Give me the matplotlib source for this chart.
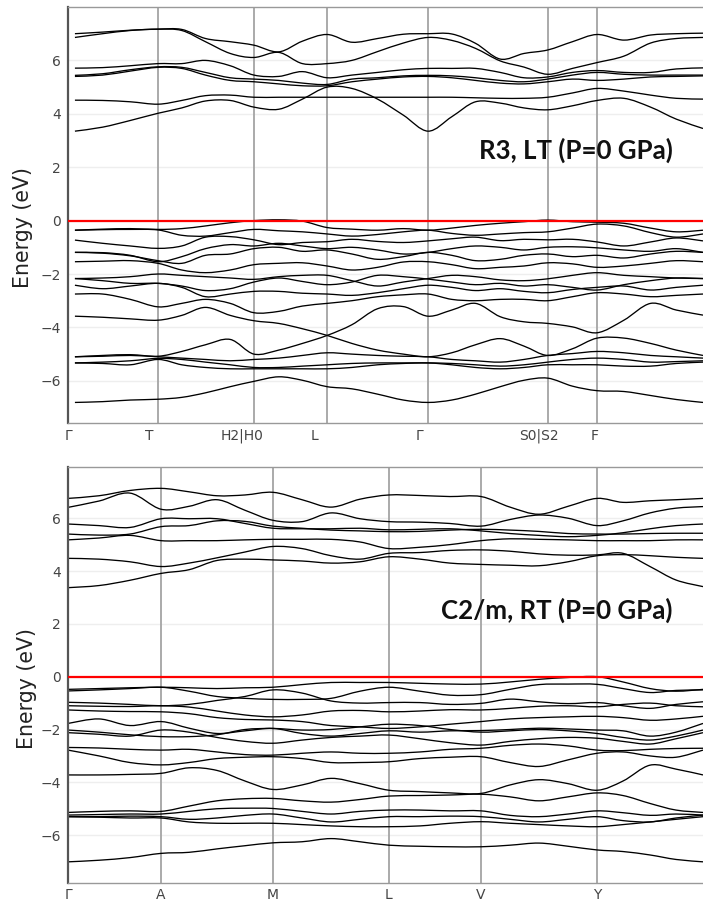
import matplotlib
matplotlib.use('Agg')
import matplotlib.pyplot as plt
from matplotlib.path import Path
from matplotlib.patches import PathPatch

# ---------------- top panel: R3, LT ----------------
k_top = [0, 28, 56, 84, 108, 132, 157, 181, 206, 230, 255, 280, 306, 332, 357,
         381, 405, 430, 454, 478, 503, 528, 555, 582, 608, 635]
kline_top = [84, 181, 255, 357, 478, 528]
klab_top_pos = [-7, 75, 169, 242, 348, 469, 525]
klab_top = ['Γ', 'T', 'H2|H0', 'L', 'Γ', 'S0|S2', 'F']

top_cond = [
    [7.00, 7.06, 7.13, 7.17, 7.16, 6.82, 6.70, 6.57, 6.32, 6.72, 6.97, 6.68, 6.82, 6.98, 7.00, 6.99, 6.64, 6.05, 6.26, 6.39, 6.70, 6.97, 6.76, 6.95, 7.00, 7.02],
    [6.86, 7.00, 7.12, 7.17, 7.12, 6.70, 6.26, 6.11, 6.30, 5.88, 5.88, 6.00, 6.33, 6.65, 6.86, 6.75, 6.45, 5.98, 5.75, 5.48, 5.70, 5.92, 6.16, 6.65, 6.82, 6.86],
    [5.71, 5.73, 5.80, 5.88, 5.88, 6.00, 5.80, 5.45, 5.40, 5.58, 5.35, 5.45, 5.55, 5.65, 5.70, 5.70, 5.70, 5.55, 5.35, 5.38, 5.55, 5.62, 5.55, 5.55, 5.68, 5.72],
    [5.44, 5.50, 5.65, 5.76, 5.74, 5.55, 5.35, 5.30, 5.25, 5.15, 5.10, 5.30, 5.35, 5.42, 5.44, 5.42, 5.35, 5.25, 5.20, 5.30, 5.45, 5.55, 5.48, 5.45, 5.45, 5.45],
    [5.40, 5.45, 5.60, 5.74, 5.70, 5.45, 5.25, 5.20, 5.12, 5.05, 5.05, 5.20, 5.30, 5.38, 5.40, 5.35, 5.25, 5.15, 5.12, 5.20, 5.30, 5.25, 5.30, 5.38, 5.40, 5.42],
    [4.51, 4.50, 4.45, 4.36, 4.50, 4.68, 4.70, 4.62, 4.62, 4.62, 4.62, 4.62, 4.62, 4.62, 4.62, 4.62, 4.60, 4.58, 4.58, 4.62, 4.78, 4.95, 4.85, 4.70, 4.58, 4.55],
    [3.35, 3.50, 3.75, 4.02, 4.22, 4.48, 4.50, 4.25, 4.17, 4.55, 5.00, 4.95, 4.55, 3.95, 3.35, 3.89, 4.45, 4.40, 4.22, 4.15, 4.30, 4.50, 4.58, 4.25, 3.80, 3.45],
]

top_val = [
    [-0.36, -0.32, -0.30, -0.33, -0.30, -0.20, -0.08, 0.00, 0.03, -0.02, -0.26, -0.32, -0.36, -0.30, -0.36, -0.28, -0.18, -0.10, -0.04, 0.02, -0.04, -0.06, -0.10, -0.28, -0.42, -0.36],
    [-0.36, -0.34, -0.33, -0.35, -0.55, -0.58, -0.45, -0.33, -0.38, -0.42, -0.50, -0.58, -0.52, -0.42, -0.36, -0.48, -0.55, -0.50, -0.45, -0.42, -0.28, -0.13, -0.20, -0.45, -0.62, -0.50],
    [-0.73, -0.85, -0.95, -1.04, -0.95, -0.62, -0.60, -0.72, -0.90, -0.82, -0.79, -0.70, -0.78, -0.82, -0.76, -0.68, -0.62, -0.75, -0.70, -0.72, -0.70, -0.80, -0.95, -0.80, -0.65, -0.76],
    [-1.19, -1.20, -1.30, -1.54, -1.35, -1.05, -0.90, -0.95, -0.85, -0.95, -1.05, -1.00, -1.10, -1.25, -1.19, -1.05, -0.95, -1.00, -1.10, -1.00, -0.98, -1.02, -1.10, -1.15, -1.05, -1.19],
    [-1.19, -1.22, -1.32, -1.50, -1.60, -1.30, -1.25, -1.05, -1.00, -1.15, -1.10, -1.25, -1.45, -1.35, -1.19, -1.30, -1.50, -1.45, -1.30, -1.25, -1.35, -1.30, -1.40, -1.25, -1.15, -1.19],
    [-1.54, -1.52, -1.50, -1.60, -1.85, -1.95, -1.85, -1.65, -1.60, -1.58, -1.70, -1.85, -1.75, -1.55, -1.54, -1.65, -1.80, -1.75, -1.70, -1.58, -1.62, -1.75, -1.70, -1.60, -1.50, -1.54],
    [-2.17, -2.15, -2.10, -2.00, -2.05, -2.10, -2.15, -2.20, -2.10, -2.05, -2.05, -2.25, -2.45, -2.30, -2.17, -2.05, -2.10, -2.22, -2.25, -2.18, -2.05, -1.95, -2.05, -2.10, -2.15, -2.17],
    [-2.17, -2.25, -2.35, -2.35, -2.45, -2.62, -2.55, -2.30, -2.15, -2.28, -2.40, -2.30, -2.05, -2.10, -2.19, -2.30, -2.40, -2.35, -2.45, -2.40, -2.50, -2.60, -2.40, -2.25, -2.15, -2.17],
    [-2.42, -2.55, -2.45, -2.35, -2.50, -2.85, -2.75, -2.65, -2.65, -2.72, -2.75, -2.80, -2.70, -2.55, -2.42, -2.50, -2.62, -2.55, -2.65, -2.70, -2.58, -2.50, -2.45, -2.60, -2.50, -2.42],
    [-2.75, -2.75, -2.95, -3.23, -3.10, -2.95, -3.10, -3.45, -3.40, -3.20, -3.10, -3.00, -2.85, -2.78, -2.75, -2.95, -3.00, -2.95, -2.95, -3.00, -2.85, -2.70, -2.75, -2.85, -2.80, -2.75],
    [-3.58, -3.62, -3.68, -3.73, -3.55, -3.25, -3.55, -3.75, -3.85, -4.05, -4.30, -4.60, -4.85, -5.00, -5.10, -4.95, -4.65, -4.42, -4.70, -5.05, -4.80, -4.40, -4.40, -4.60, -4.85, -5.05],
    [-5.10, -5.05, -5.02, -5.08, -4.90, -4.65, -4.45, -5.00, -4.85, -4.60, -4.30, -3.90, -3.30, -3.22, -3.58, -3.35, -3.10, -3.60, -3.79, -3.85, -3.98, -4.20, -3.73, -3.10, -3.35, -3.54],
    [-5.10, -5.08, -5.05, -5.10, -5.15, -5.20, -5.25, -5.20, -5.15, -5.05, -4.95, -5.00, -5.05, -5.08, -5.10, -5.20, -5.25, -5.30, -5.20, -5.05, -4.98, -4.90, -4.95, -5.05, -5.10, -5.15],
    [-5.33, -5.30, -5.25, -5.16, -5.20, -5.30, -5.40, -5.50, -5.50, -5.45, -5.40, -5.35, -5.33, -5.33, -5.33, -5.35, -5.40, -5.45, -5.40, -5.30, -5.20, -5.15, -5.20, -5.30, -5.28, -5.25],
    [-5.33, -5.35, -5.40, -5.20, -5.40, -5.50, -5.55, -5.55, -5.55, -5.55, -5.55, -5.50, -5.40, -5.35, -5.33, -5.40, -5.50, -5.55, -5.50, -5.40, -5.40, -5.40, -5.45, -5.45, -5.35, -5.30],
    [-6.81, -6.78, -6.72, -6.69, -6.62, -6.45, -6.22, -6.02, -5.85, -5.98, -6.22, -6.30, -6.50, -6.72, -6.81, -6.72, -6.50, -6.22, -5.98, -5.90, -6.20, -6.37, -6.40, -6.55, -6.70, -6.81],
]

# ---------------- bottom panel: C2/m, RT ----------------
k_bot = [0, 31, 62, 93, 121, 149, 177, 205, 234, 263, 292, 321, 352, 382, 413,
         442, 471, 500, 529, 555, 582, 608, 635]
kline_bot = [93, 205, 321, 413, 529]
klab_bot_pos = [0, 93, 205, 321, 413, 529]
klab_bot = ['Γ', 'A', 'M', 'L', 'V', 'Y']

bot_cond = [
    [6.75, 6.85, 7.05, 7.13, 7.00, 6.85, 6.88, 6.98, 6.70, 6.42, 6.72, 6.88, 6.86, 6.82, 6.82, 6.42, 6.15, 6.45, 6.75, 6.60, 6.66, 6.70, 6.75],
    [6.41, 6.65, 6.95, 6.34, 6.45, 6.70, 6.30, 5.92, 5.87, 6.20, 5.98, 5.87, 5.85, 5.80, 5.70, 5.95, 6.12, 6.00, 5.72, 5.90, 6.20, 6.38, 6.44],
    [5.78, 5.72, 5.65, 5.98, 5.98, 5.98, 5.80, 5.62, 5.60, 5.60, 5.62, 5.56, 5.58, 5.60, 5.52, 5.42, 5.35, 5.30, 5.35, 5.45, 5.60, 5.72, 5.78],
    [5.40, 5.36, 5.40, 5.68, 5.72, 5.90, 5.88, 5.70, 5.62, 5.55, 5.52, 5.49, 5.50, 5.55, 5.58, 5.55, 5.50, 5.42, 5.40, 5.40, 5.42, 5.43, 5.43],
    [5.18, 5.25, 5.35, 5.15, 5.15, 5.15, 5.18, 5.20, 5.20, 5.20, 5.10, 4.85, 4.90, 5.00, 5.15, 5.22, 5.20, 5.18, 5.15, 5.15, 5.15, 5.18, 5.18],
    [4.48, 4.45, 4.35, 4.17, 4.30, 4.50, 4.72, 4.93, 4.85, 4.58, 4.45, 4.67, 4.70, 4.78, 4.80, 4.75, 4.65, 4.60, 4.61, 4.67, 4.17, 3.66, 3.41],
    [3.37, 3.45, 3.65, 3.91, 4.05, 4.40, 4.45, 4.42, 4.38, 4.30, 4.35, 4.54, 4.45, 4.30, 4.25, 4.22, 4.20, 4.35, 4.58, 4.62, 4.58, 4.52, 4.48],
]

bot_val = [
    [-0.48, -0.45, -0.42, -0.40, -0.42, -0.45, -0.42, -0.40, -0.30, -0.22, -0.22, -0.22, -0.25, -0.28, -0.28, -0.20, -0.10, -0.03, 0.00, -0.20, -0.45, -0.55, -0.48],
    [-0.54, -0.50, -0.45, -0.40, -0.55, -0.75, -0.82, -0.86, -0.86, -0.82, -0.55, -0.40, -0.55, -0.70, -0.68, -0.48, -0.30, -0.28, -0.29, -0.45, -0.60, -0.52, -0.50],
    [-0.97, -1.00, -1.05, -1.10, -1.05, -0.90, -0.75, -0.50, -0.62, -0.92, -1.00, -0.98, -0.98, -1.05, -1.01, -0.85, -0.95, -1.02, -0.98, -1.10, -1.20, -1.05, -0.95],
    [-1.10, -1.12, -1.13, -1.10, -1.15, -1.30, -1.45, -1.52, -1.45, -1.30, -1.28, -1.33, -1.30, -1.25, -1.26, -1.20, -1.12, -1.10, -1.14, -1.05, -1.00, -1.10, -1.14],
    [-1.26, -1.30, -1.32, -1.33, -1.40, -1.55, -1.62, -1.64, -1.70, -1.85, -1.90, -1.96, -1.90, -1.80, -1.70, -1.60, -1.55, -1.52, -1.50, -1.55, -1.65, -1.60, -1.50],
    [-1.77, -1.60, -1.85, -1.70, -1.95, -2.15, -2.05, -1.96, -2.15, -2.25, -2.15, -2.05, -2.10, -2.05, -2.04, -2.00, -1.95, -1.98, -2.02, -2.05, -2.25, -2.10, -1.77],
    [-2.02, -2.10, -2.20, -2.27, -2.27, -2.20, -2.00, -1.96, -2.02, -2.00, -1.90, -1.80, -1.85, -2.00, -2.10, -2.05, -2.00, -2.05, -2.15, -2.30, -2.40, -2.25, -2.02],
    [-2.12, -2.18, -2.25, -2.02, -2.10, -2.30, -2.45, -2.52, -2.40, -2.30, -2.25, -2.21, -2.35, -2.50, -2.59, -2.45, -2.35, -2.30, -2.33, -2.45, -2.55, -2.35, -2.12],
    [-2.68, -2.70, -2.75, -2.78, -2.75, -2.85, -2.95, -2.97, -2.90, -2.85, -2.90, -2.90, -2.85, -2.75, -2.71, -2.60, -2.55, -2.62, -2.78, -2.80, -2.75, -2.72, -2.71],
    [-2.78, -3.00, -3.25, -3.34, -3.25, -3.10, -3.05, -3.03, -3.10, -3.25, -3.25, -3.22, -3.10, -3.05, -3.03, -3.25, -3.40, -3.15, -2.90, -2.85, -3.00, -3.05, -2.78],
    [-3.72, -3.72, -3.70, -3.66, -3.45, -3.55, -3.95, -4.27, -4.10, -3.85, -4.05, -4.30, -4.35, -4.40, -4.42, -4.10, -3.90, -4.05, -4.30, -3.95, -3.35, -3.50, -3.72],
    [-5.14, -5.10, -5.08, -5.10, -4.90, -4.70, -4.62, -4.61, -4.70, -4.75, -4.65, -4.52, -4.50, -4.48, -4.45, -4.55, -4.70, -4.55, -4.40, -4.50, -4.80, -5.05, -5.14],
    [-5.24, -5.22, -5.20, -5.20, -5.10, -5.00, -4.98, -4.99, -5.10, -5.20, -5.10, -5.05, -5.05, -5.08, -5.08, -5.25, -5.30, -5.20, -5.08, -5.15, -5.25, -5.20, -5.24],
    [-5.30, -5.30, -5.28, -5.30, -5.40, -5.35, -5.25, -5.20, -5.35, -5.50, -5.40, -5.30, -5.30, -5.28, -5.30, -5.40, -5.50, -5.40, -5.30, -5.45, -5.50, -5.35, -5.24],
    [-5.30, -5.32, -5.35, -5.35, -5.50, -5.55, -5.55, -5.55, -5.60, -5.65, -5.68, -5.68, -5.65, -5.55, -5.49, -5.55, -5.60, -5.65, -5.68, -5.60, -5.50, -5.40, -5.30],
    [-7.01, -6.95, -6.85, -6.69, -6.65, -6.52, -6.40, -6.29, -6.25, -6.13, -6.25, -6.38, -6.42, -6.44, -6.44, -6.38, -6.30, -6.42, -6.56, -6.62, -6.75, -6.92, -7.01],
]

yticks = [-6, -4, -2, 0, 2, 4, 6]
ytick_labels = ['−6', '−4', '−2', '0', '2', '4', '6']


def splinePath(x, y):
    # smooth curve through the read points (like a spline line shape)
    n = len(x)
    verts = [(x[0], y[0])]
    codes = [Path.MOVETO]
    for i in range(n - 1):
        x0, y0 = (x[i - 1], y[i - 1]) if i > 0 else (x[i], y[i])
        x3, y3 = (x[i + 2], y[i + 2]) if i + 2 < n else (x[i + 1], y[i + 1])
        c1 = (x[i] + (x[i + 1] - x0) / 6.0, y[i] + (y[i + 1] - y0) / 6.0)
        c2 = (x[i + 1] - (x3 - x[i]) / 6.0, y[i + 1] - (y3 - y[i]) / 6.0)
        verts += [c1, c2, (x[i + 1], y[i + 1])]
        codes += [Path.CURVE4, Path.CURVE4, Path.CURVE4]
    return Path(verts, codes)


def drawPanel(ax, k, bands, klines, kpos, klabels, ylim, title, title_xy, ylab_xy):
    for e in range(len(yticks)):
        ax.axhline(yticks[e], color='#eeeeee', lw=1.0, zorder=0)
    for x in klines:
        ax.axvline(x, color='#aaaaaa', lw=1.4, zorder=1)
    for b in bands:
        ax.add_patch(PathPatch(splinePath(k, b), fill=False, edgecolor='black',
                               lw=0.95, zorder=2))
    ax.axhline(0, color='red', lw=1.6, zorder=3)
    ax.set_xlim(0, 635)
    ax.set_ylim(ylim)
    ax.set_xticks(kpos)
    ax.set_xticklabels(klabels)
    ax.set_yticks(yticks)
    ax.set_yticklabels(ytick_labels)
    ax.tick_params(length=0, labelsize=10, colors='#444444')
    ax.tick_params(axis='x', pad=4)
    ax.tick_params(axis='y', pad=5)
    ax.spines['right'].set_visible(False)
    ax.spines['left'].set_color('#555555')
    ax.spines['left'].set_linewidth(1.6)
    for s in ['top', 'bottom']:
        ax.spines[s].set_color('#999999')
        ax.spines[s].set_linewidth(1.0)
    ax.set_ylabel('Energy (eV)', fontsize=14.8, color='#222222')
    ax.yaxis.set_label_coords(ylab_xy[0], ylab_xy[1])
    ax.text(title_xy[0], title_xy[1], title, transform=ax.transAxes,
            ha='center', va='center', fontsize=18.6, fontweight='bold',
            family='Lato', color='#111111')


fig = plt.figure(figsize=(7.03, 9.02), dpi=100)
W, H = 703.0, 902.0
ax1 = fig.add_axes([68 / W, 1 - 423 / H, 635 / W, 416 / H])
ax2 = fig.add_axes([68 / W, 1 - 882.7 / H, 635 / W, 416 / H])

drawPanel(ax1, k_top, top_cond + top_val, kline_top, klab_top_pos, klab_top,
          (-7.58, 8.0), 'R3, LT (P=0 GPa)', ((576 - 68) / 635.0, (423 - 150) / 416.0),
          (-0.055, 0.471))
drawPanel(ax2, k_bot, bot_cond + bot_val, kline_bot, klab_bot_pos, klab_bot,
          (-7.8, 7.95), 'C2/m, RT (P=0 GPa)', ((557 - 68) / 635.0, (882.7 - 610) / 416.0),
          (-0.049, 0.466))

fig.savefig('out.png', dpi=100)
